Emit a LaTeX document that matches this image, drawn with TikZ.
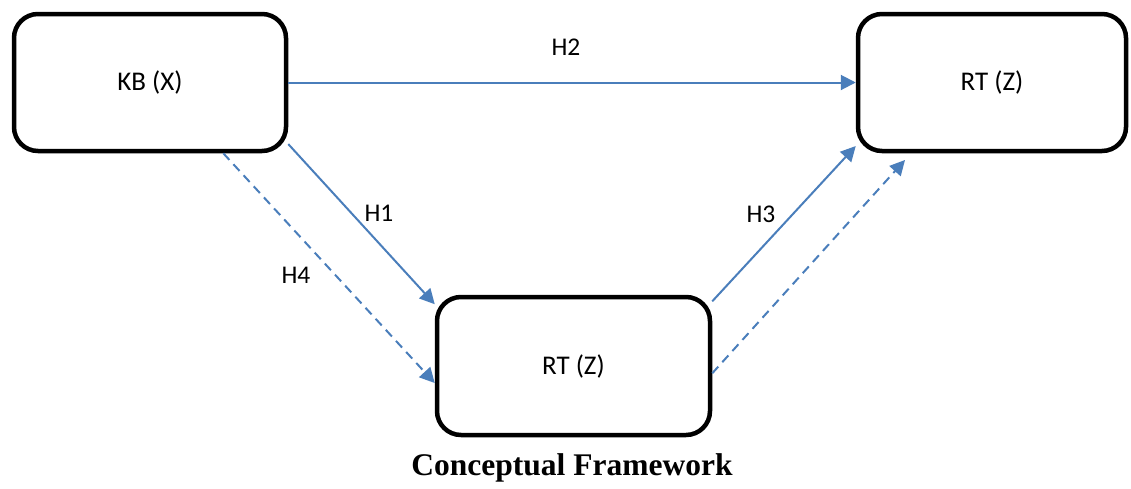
\documentclass[tikz,border=0pt]{standalone}
\usepackage{fontspec}
\setmainfont{Carlito}
\newfontfamily\capfont{Liberation Serif}
\usetikzlibrary{arrows.meta}
\definecolor{linkblue}{HTML}{4A7EBB}
\begin{document}
\begin{tikzpicture}[x=1pt,y=-1pt,
  boxnode/.style={draw=black, line width=4.5pt, rounded corners=24pt, fill=white,
    font=\fontsize{27}{32}\selectfont, inner sep=0pt},
  link/.style={draw=linkblue, line width=2pt, -{Triangle[length=15pt,width=15pt]}},
  dlink/.style={link, dash pattern=on 9pt off 6pt},
  lab/.style={font=\fontsize{25.5}{30}\selectfont, inner sep=0pt}]
\useasboundingbox (0,0) rectangle (1131,488);
\node[boxnode, minimum width=272pt, minimum height=137pt] (kb) at (150,82.5) {KB (X)};
\node[boxnode, minimum width=268pt, minimum height=137pt] (rt) at (992,82.5) {RT (Z)};
\node[boxnode, minimum width=273pt, minimum height=138pt] (rb) at (573.5,366) {RT (Z)};
\coordinate (dend) at (905,160);
\draw[link] (kb.east) -- (rt.west);
\draw[link] (kb.-24.8) -- (rb.156);
\draw[dlink] (kb.-44.4) -- (rb.187.8);
\draw[link] (rb.25.3) -- (rt.205);
\draw[dlink] (rb.-3.7) -- (dend);
\node[lab] (h2) at (566,47) {H2};
\node[lab] (h1) at (379,213) {H1};
\node[lab] (h4) at (296,275) {H4};
\node[lab] (h3) at (761,214) {H3};
\node[font=\capfont\bfseries\fontsize{31.5}{36}\selectfont, inner sep=0pt] (cap) at (572,468) {Conceptual Framework};
\end{tikzpicture}
\end{document}
